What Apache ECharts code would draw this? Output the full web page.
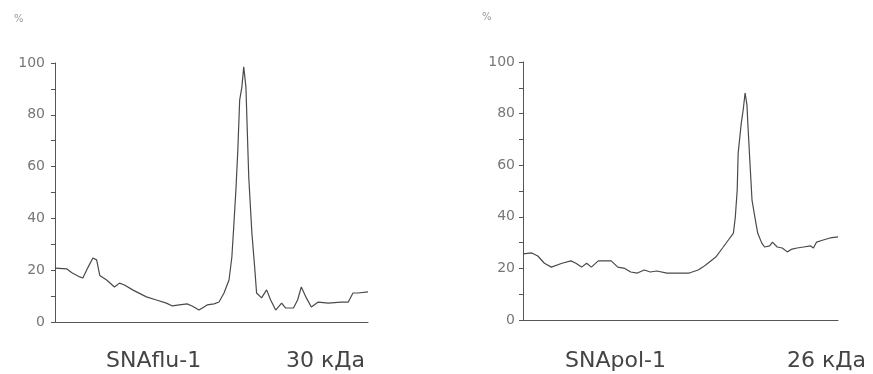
<!DOCTYPE html>
<html><head><meta charset="utf-8">
<script src="https://cdn.jsdelivr.net/npm/echarts@6/dist/echarts.min.js"></script>
<style>html,body{margin:0;padding:0;background:#fff}#c{width:873px;height:374px}</style>
</head><body><div id="c"></div>
<script>
// Left panel: SNAflu-1 (30 кДа)
const fluX = [0,3.8,5.4,7.9,8.9,10.5,12.1,13.3,14.3,16.5,19,20.6,22.2,24.8,29.2,32.4,35.6,37.5,39.7,42.2,43.8,46,47.6,48.6,50.8,52.4,54,55.6,56.5,57.1,57.8,58.4,59,59.7,60.3,61,61.3,61.9,62.9,63.8,64.4,66,67.6,68.9,70.5,72.4,73.7,76.2,77.5,78.7,80.3,81.9,84.1,87.3,91.4,93.7,95.2,96.8,100];
const fluY = [20.8,20.5,19,17.4,17,21,24.7,24,18,16.2,13.5,15,14.3,12.4,9.7,8.5,7.3,6.2,6.6,7,6.2,4.6,5.8,6.6,7,7.7,11.2,16.2,25,36.7,51,66,85.7,90.7,98.5,90.7,79,56,34.4,21,11.2,9.3,12.4,8.5,4.6,7.3,5.4,5.4,8.5,13.5,9.3,5.8,7.7,7.3,7.7,7.7,11.2,11.2,11.6];
// Right panel: SNApol-1 (26 кДа)
const polX = [0,2.8,4.7,6.8,9,12.4,15.2,16.8,18.6,20.2,21.7,23.9,26.1,28,30.1,32.3,34.2,36.3,38.5,40.4,42.5,45.7,48.8,52.8,55.6,57.1,58.7,61.2,63.4,65.2,66.8,67.4,68,68.3,69.3,69.9,70.5,71.1,71.4,72,72.7,73.6,74.5,75.8,76.7,78.3,79.2,80.7,82.3,83.9,85.4,87,89.1,91.3,92.2,93.2,95.3,97.5,100];
const polY = [25.6,26,24.8,22,20.5,22,22.9,22,20.5,22,20.5,22.9,22.9,22.9,20.5,20,18.6,18.2,19.4,18.6,19,18.2,18.2,18.2,19.4,20.5,22,24.4,28,31,33.7,39.9,50.4,64.6,76.4,81.4,88,83.3,75.6,62,46.5,40,33.7,29.8,28.3,28.7,30.2,28.3,27.9,26.4,27.5,27.9,28.3,28.7,27.9,30.2,31,31.8,32.2];
const yTicks = [0,20,40,60,80,100];
const titles = [["SNAflu-1","30 кДа"],["SNApol-1","26 кДа"]];

const zip = (xs, ys) => xs.map((x,i)=>[x, ys[i]]);
const axisCol = '#555';
function yAx(idx){
  return {gridIndex:idx,type:'value',min:0,max:100,interval:20,
    axisLine:{show:true,lineStyle:{color:axisCol,width:1}},
    axisTick:{show:true,length:4,lineStyle:{color:axisCol}},
    minorTick:{show:true,splitNumber:2,length:4,lineStyle:{color:axisCol}},
    splitLine:{show:false},
    axisLabel:{color:'#777',fontFamily:'DejaVu Sans',fontSize:14,margin:idx===0?10:8,
      formatter:v=>yTicks.includes(v)?String(v):''}};
}
function xAx(idx){
  return {gridIndex:idx,type:'value',min:0,max:100,
    axisLine:{show:true,lineStyle:{color:axisCol,width:1}},
    axisTick:{show:false},axisLabel:{show:false},splitLine:{show:false}};
}
const lineSeries = (idx, data) => ({type:'line',xAxisIndex:idx,yAxisIndex:idx,data,
  showSymbol:false,symbol:'none',lineStyle:{color:'#4a4a4a',width:1.2},animation:false});

const chart = echarts.init(document.getElementById('c'));
const txt = (x,y,s,size,col) => ({type:'text',left:x,top:y,style:{text:s,fontFamily:'DejaVu Sans',fontSize:size,fill:col}});
chart.setOption({
  backgroundColor:'#fff',
  animation:false,
  grid:[{left:55,top:63,width:313,height:259},{left:523,top:62,width:315,height:258}],
  xAxis:[xAx(0),xAx(1)],
  yAxis:[yAx(0),yAx(1)],
  series:[lineSeries(0, zip(fluX,fluY)), lineSeries(1, zip(polX,polY))],
  graphic:[
    txt(14,14,'%',10,'#999'),
    txt(482,12,'%',10,'#999'),
    txt(106,350,titles[0][0],22,'#444'),
    txt(286,350,titles[0][1],22,'#444'),
    txt(565,350,titles[1][0],22,'#444'),
    txt(787,350,titles[1][1],22,'#444')
  ]
});
</script></body></html>
